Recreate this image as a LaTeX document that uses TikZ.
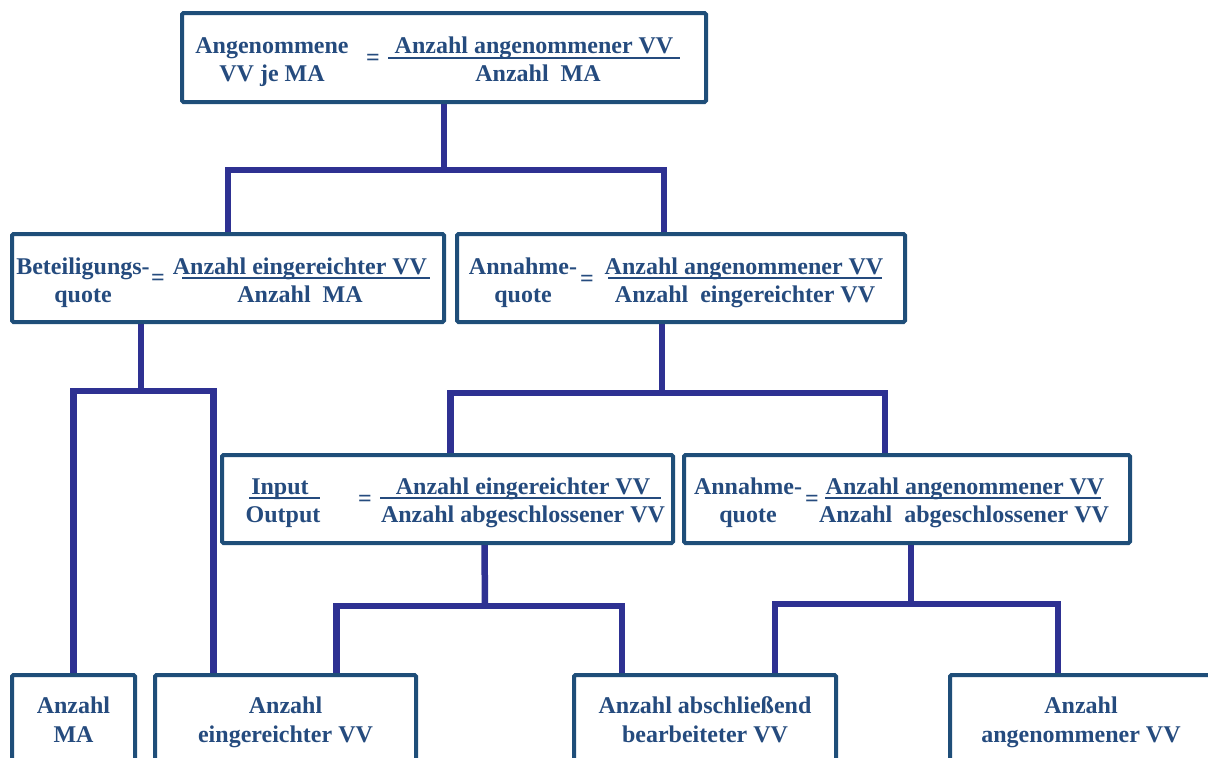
\documentclass[tikz,border=0pt]{standalone}
\usepackage{fontspec}
\setmainfont{Liberation Serif}
\usetikzlibrary{backgrounds}
\definecolor{boxblue}{HTML}{1F4E79}
\definecolor{txtblue}{HTML}{254B7E}
\definecolor{linknavy}{HTML}{2E3192}
\begin{document}
\begin{tikzpicture}[x=1pt,y=-1pt,
  box/.style={draw=boxblue, line width=4pt, fill=white, rounded corners=1.5pt,
              inner sep=0pt},
  txt/.style={text=txtblue, font=\fontsize{24}{28}\selectfont\bfseries,
              inner sep=0pt, anchor=base},
  eqs/.style={text=txtblue, font=\fontsize{24}{28}\selectfont\bfseries,
              inner sep=0pt, anchor=center},
  fracline/.style={draw=txtblue, line width=2pt},
  conn/.style={draw=linknavy, line width=6.5pt}]
\useasboundingbox (0,0) rectangle (1208,758);
\clip (0,0) rectangle (1208,758);

% ---------- boxes ----------
\node[box, minimum width=524pt, minimum height=89pt] (top) at (444,57.5) {};
\node[box, minimum width=432pt, minimum height=88pt] (bl) at (228,278) {};
\node[box, minimum width=448pt, minimum height=88pt] (br) at (681,278) {};
\node[box, minimum width=451pt, minimum height=88pt] (io) at (447.5,499) {};
\node[box, minimum width=446pt, minimum height=88pt] (an) at (907,499) {};
\node[box, minimum width=123pt, minimum height=110pt] (ma) at (73.5,730) {};
\node[box, minimum width=261pt, minimum height=110pt] (ev) at (285.5,730) {};
\node[box, minimum width=262pt, minimum height=110pt] (ab) at (705,730) {};
\node[box, minimum width=262pt, minimum height=110pt] (av) at (1081,730) {};

% ---------- connectors ----------
\begin{scope}[on background layer]
  \coordinate (j1) at (444,170);
  \coordinate (j2) at (141,391);
  \coordinate (j3) at (662,393);
  \coordinate (j4) at (485,606);
  \coordinate (j5) at (911,604);
  \draw[conn] (top.south) -- (j1);
  \draw[conn] (bl.north) |- (j1) -| ([xshift=-17pt]br.north);
  \draw[conn] ([xshift=-87pt]bl.south) -- (j2);
  \draw[conn] (ma.north) |- (j2) -| ([xshift=-72pt]ev.north);
  \draw[conn] ([xshift=-19pt]br.south) -- (j3);
  \draw[conn] ([xshift=3pt]io.north) |- (j3) -| ([xshift=-22pt]an.north);
  \draw[conn] ([xshift=37pt]io.south) -- (j4);
  \draw[conn] ([xshift=51pt]ev.north) |- (j4) -| ([xshift=-83pt]ab.north);
  \draw[conn] ([xshift=4pt]an.south) -- (j5);
  \draw[conn] ([xshift=70pt]ab.north) |- (j5) -| ([xshift=-23pt]av.north);
\end{scope}

% ---------- top formula ----------
\node[txt] (t1) at (272,53) {Angenommene};
\node[txt] (t2) at (272,81) {VV je MA};
\node[eqs] (t3) at (373,60) {=};
\node[txt] (t4) at (534,53) {Anzahl angenommener VV};
\node[txt] (t5) at (538,81) {Anzahl\ \ MA};
\draw[fracline] (388,58) -- (680,58);

% ---------- participation rate ----------
\node[txt] (b1) at (83,274) {Beteiligungs-};
\node[txt] (b2) at (83,302) {quote};
\node[eqs] (b3) at (158,280) {=};
\node[txt] (b4) at (300,274) {Anzahl eingereichter VV};
\node[txt] (b5) at (300,302) {Anzahl\ \ MA};
\draw[fracline] (182,278) -- (430,278);

% ---------- acceptance rate ----------
\node[txt] (r1) at (523,274) {Annahme-};
\node[txt] (r2) at (523,302) {quote};
\node[eqs] (r3) at (587,281) {=};
\node[txt] (r4) at (744,274) {Anzahl angenommener VV};
\node[txt] (r5) at (745,302) {Anzahl\ \ eingereichter VV};
\draw[fracline] (608,278) -- (882,278);

% ---------- input / output ----------
\node[txt] (i1) at (280,494) {Input};
\node[txt] (i2) at (283,522) {Output};
\draw[fracline] (249,498) -- (320,498);
\node[eqs] (i3) at (365,501) {=};
\node[txt] (i4) at (523,494) {Anzahl eingereichter VV};
\node[txt] (i5) at (523,522) {Anzahl abgeschlossener VV};
\draw[fracline] (380,498) -- (661,498);

% ---------- acceptance rate (closed) ----------
\node[txt] (a1) at (748,494) {Annahme-};
\node[txt] (a2) at (748,522) {quote};
\node[eqs] (a3) at (812,501) {=};
\node[txt] (a4) at (965,494) {Anzahl angenommener VV};
\node[txt] (a5) at (964,522) {Anzahl\ \ abgeschlossener VV};
\draw[fracline] (825,498) -- (1101,498);

% ---------- base quantities ----------
\node[txt] (m1) at (73.5,713) {Anzahl};
\node[txt] (m2) at (73.5,742) {MA};
\node[txt] (e1) at (285.5,713) {Anzahl};
\node[txt] (e2) at (285.5,742) {eingereichter VV};
\node[txt] (c1) at (705,713) {Anzahl abschließend};
\node[txt] (c2) at (705,742) {bearbeiteter VV};
\node[txt] (v1) at (1081,713) {Anzahl};
\node[txt] (v2) at (1081,742) {angenommener VV};
\end{tikzpicture}
\end{document}
